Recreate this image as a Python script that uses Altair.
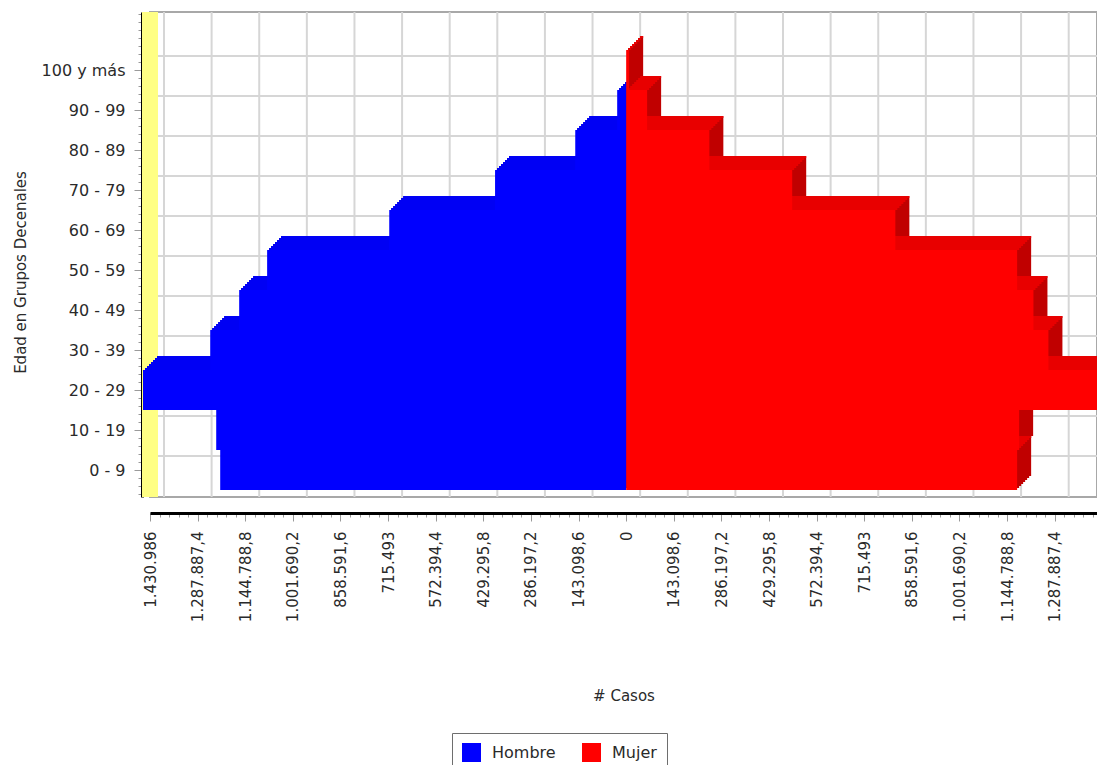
import json
import altair as alt
import pandas as pd

# ---------------- data ----------------
grupos = ["0 - 9", "10 - 19", "20 - 29", "30 - 39", "40 - 49", "50 - 59",
          "60 - 69", "70 - 79", "80 - 89", "90 - 99", "100 y más"]
hombre = [1220000, 1232000, 1452000, 1250000, 1163000, 1079000,
          712000, 394000, 153000, 27000, 0]
mujer = [1175000, 1181000, 1431000, 1269000, 1224000, 1175000,
         809000, 499000, 250000, 63000, 9000]
sexos = ["Hombre", "Mujer"]

x_ticks = [-1430986, -1287887.4, -1144788.8, -1001690.2, -858591.6, -715493,
           -572394.4, -429295.8, -286197.2, -143098.6, 0,
           143098.6, 286197.2, 429295.8, 572394.4, 715493, 858591.6,
           1001690.2, 1144788.8, 1287887.4]
x_labels = ["1.430.986", "1.287.887,4", "1.144.788,8", "1.001.690,2", "858.591,6", "715.493",
            "572.394,4", "429.295,8", "286.197,2", "143.098,6", "0",
            "143.098,6", "286.197,2", "429.295,8", "572.394,4", "715.493", "858.591,6",
            "1.001.690,2", "1.144.788,8", "1.287.887,4"]

# ---------------- styling ----------------
colores = ["#0000ff", "#ff0000"]
colores_lado = ["#0000e6", "#c00000"]
colores_techo = ["#0000f4", "#e80000"]
FONT = "DejaVu Sans"
DEPTH = 14
TXT = "#2a2a2a"

rows = []
for i, g in enumerate(grupos):
    rows.append({"grupo": g, "idx": i, "sexo": "Hombre", "valor": -hombre[i]})
    rows.append({"grupo": g, "idx": i, "sexo": "Mujer", "valor": mujer[i]})
df = pd.DataFrame(rows)

xscale = alt.Scale(domain=[-1430986, 1415000], nice=False, zero=False)
yscale = alt.Scale(domain=[-0.675, 11.45], nice=False, zero=False)

x_minor = [round(k * 28619.72, 2) for k in range(-50, 50)]
y_minor = [k / 5 for k in range(-3, 58)]
y_major = list(range(len(grupos)))

base = alt.Chart(df).transform_calculate(
    lo="datum.idx - 0.5", hi="datum.idx + 0.5", cero="0"
)

# back-plane grid (shifted by the 3D depth)
grid_x = alt.Chart(pd.DataFrame({"v": x_ticks})).mark_rule(
    color="#d6d6d6", strokeWidth=2, xOffset=DEPTH
).encode(
    x=alt.X("v:Q", scale=xscale,
            axis=alt.Axis(orient="bottom", values=x_minor, labels=False, domain=False,
                          grid=False, ticks=True, tickSize=4, tickColor="#9a9a9a",
                          offset=16, title=None))
)
grid_y = alt.Chart(pd.DataFrame({"idx": y_major})).mark_rule(
    color="#d6d6d6", strokeWidth=2, yOffset=-DEPTH
).encode(
    y=alt.Y("idx:Q", scale=yscale,
            axis=alt.Axis(orient="left", values=y_minor, labels=False, domain=False,
                          grid=False, ticks=True, tickSize=4, tickColor="#9a9a9a",
                          offset=8, title=None))
)

# yellow side wall at the left edge of the scale
wall = alt.Chart(pd.DataFrame({"v": [x_ticks[0]]})).mark_rule(
    color="#ffff84", strokeWidth=16
).encode(x=alt.X("v:Q", scale=xscale, axis=None))

layers = [grid_x, grid_y, wall]

# 3D depth: side faces then top faces, first for Hombre, then for Mujer
for s, sexo in enumerate(sexos):
    sub = base.transform_filter(alt.datum.sexo == sexo)
    for t in range(2, DEPTH + 1, 2):
        layers.append(sub.mark_bar(color=colores_lado[s], xOffset=t, x2Offset=t,
                                   yOffset=-t, y2Offset=-t).encode(
            x=alt.X("valor:Q", scale=xscale, axis=None),
            x2="cero:Q",
            y=alt.Y("hi:Q", scale=yscale, axis=None),
            y2="lo:Q",
        ))
    for t in range(2, DEPTH + 1, 2):
        layers.append(sub.mark_bar(color=colores_techo[s], xOffset=t, x2Offset=t,
                                   yOffset=-t, y2Offset=-t + 2).encode(
            x=alt.X("valor:Q", scale=xscale, axis=None),
            x2="cero:Q",
            y=alt.Y("hi:Q", scale=yscale, axis=None),
            y2="hi:Q",
        ))

x_label_expr = f"{json.dumps(x_labels)}[indexof({json.dumps(x_ticks)}, datum.value)]"
y_label_expr = f"{json.dumps(grupos, ensure_ascii=False)}[datum.value]"

front = base.mark_bar().encode(
    x=alt.X("valor:Q", scale=xscale,
            axis=alt.Axis(orient="bottom", values=x_ticks, labelExpr=x_label_expr,
                          labelAngle=-90, labelFont=FONT, labelFontSize=15, labelColor=TXT,
                          labelPadding=10, labelOverlap=False, labelFlush=False, labelBound=False,
                          grid=False, domainColor="#000000", domainWidth=3,
                          tickColor="#9a9a9a", tickSize=8, offset=16,
                          title="# Casos", titleFont=FONT, titleFontSize=15,
                          titleFontWeight="normal", titleColor=TXT,
                          titleY=182, titleBaseline="middle")),
    x2="cero:Q",
    y=alt.Y("hi:Q", scale=yscale,
            axis=alt.Axis(orient="left", values=y_major, labelExpr=y_label_expr,
                          labelFont=FONT, labelFontSize=16, labelColor=TXT,
                          labelPadding=9, labelOverlap=False, labelFlush=False,
                          grid=False, domainColor="#000000", domainWidth=3,
                          tickColor="#9a9a9a", tickSize=8, offset=8,
                          title="Edad en Grupos Decenales", titleFont=FONT,
                          titleFontSize=15, titleFontWeight="normal", titleColor=TXT,
                          titleX=-122, titleY=260, titleAlign="center",
                          titleBaseline="middle")),
    y2="lo:Q",
    color=alt.Color("sexo:N", scale=alt.Scale(domain=sexos, range=colores),
                    legend=alt.Legend(title=None, orient="none", legendX=302, legendY=721,
                                      direction="horizontal", symbolType="square",
                                      symbolSize=361, symbolStrokeWidth=0,
                                      labelFont=FONT, labelFontSize=16, labelColor=TXT,
                                      labelOffset=11, columnPadding=26, padding=10,
                                      strokeColor="#6e6e6e", fillColor="white",
                                      labelLimit=200)),
)
layers.append(front)

chart = alt.layer(*layers).resolve_axis(
    x="independent", y="independent"
).properties(
    width=947,
    height=485,
    autosize=alt.AutoSizeParams(type="none"),
    padding={"left": 142, "top": 4, "right": 0, "bottom": 268},
    background="white",
).configure_view(stroke="#a8a8a8", strokeWidth=2)

chart.save("out.html", embed_options={"renderer": "svg", "actions": False})
